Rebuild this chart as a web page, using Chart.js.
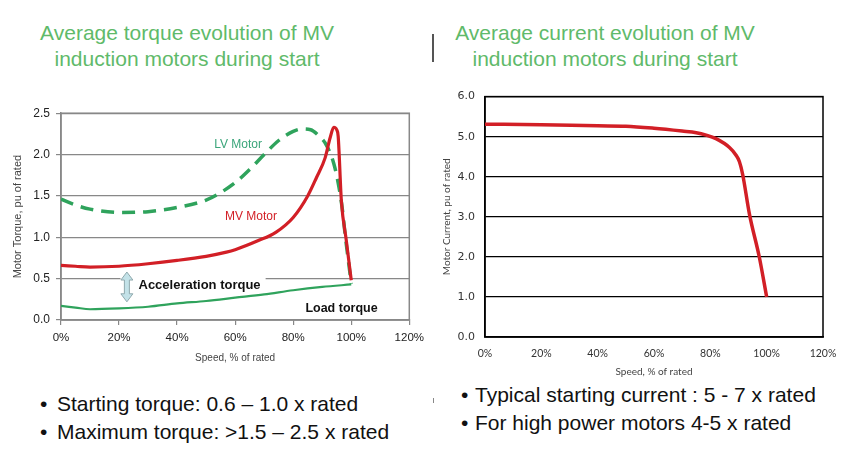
<!DOCTYPE html>
<html>
<head>
<meta charset="utf-8">
<script src="https://cdn.jsdelivr.net/npm/chart.js@4.4.1/dist/chart.umd.min.js"></script>
<style>
  body { margin:0; width:850px; height:466px; background:#fff; position:relative; overflow:hidden; font-family:"Liberation Sans", Arial, sans-serif; }
  canvas { position:absolute; }
  .title { position:absolute; top:20px; width:380px; color:#5fba6a; font-size:21px; line-height:26px; text-align:center; }
  .line { position:absolute; font-size:21px; line-height:21px; color:#111; white-space:nowrap; }
  .mark { position:absolute; background:#555; }
</style>
</head>
<body>
<div class="title" style="left:-3px">Average torque evolution of MV<br>induction motors during start</div>
<div class="title" style="left:415px">Average current evolution of MV<br>induction motors during start</div>
<div class="mark" style="left:432px;top:34px;width:2px;height:28px"></div>

<canvas id="torque" width="430" height="275" style="left:0;top:100px"></canvas>
<canvas id="current" width="420" height="300" style="left:430px;top:80px"></canvas>

<div class="line" style="left:40px;top:393px">•</div>
<div class="line" style="left:57px;top:393px">Starting torque: 0.6 – 1.0 x rated</div>
<div class="line" style="left:40px;top:421px">•</div>
<div class="line" style="left:57px;top:421px">Maximum torque: &gt;1.5 – 2.5 x rated</div>
<div class="mark" style="left:433px;top:398px;width:1px;height:5px;background:#888"></div>
<div class="line" style="left:461px;top:384px">•</div>
<div class="line" style="left:475px;top:384px">Typical starting current : 5 - 7 x rated</div>
<div class="line" style="left:461px;top:412px">•</div>
<div class="line" style="left:475px;top:412px">For high power motors 4-5 x rated</div>

<script>
// torque curves, % of rated speed vs pu of rated torque
let speedMV = [0, 5, 10, 20, 30, 40, 50, 57, 60, 68, 74, 80, 85, 88, 91, 92.7, 94, 95, 95.5, 96.6, 98.3, 100];
let torqueMV = [0.66, 0.65, 0.64, 0.65, 0.68, 0.72, 0.77, 0.82, 0.85, 0.96, 1.06, 1.24, 1.50, 1.72, 1.96, 2.2, 2.33, 2.30, 2.22, 1.44, 0.96, 0.48];
let speedLV = [0, 5, 10, 20, 30, 40, 50, 55, 60, 65, 70, 75, 80, 83, 86, 89, 91, 94, 96, 97, 98, 99, 100];
let torqueLV = [1.46, 1.39, 1.34, 1.30, 1.31, 1.36, 1.45, 1.54, 1.66, 1.82, 2.00, 2.17, 2.28, 2.31, 2.30, 2.22, 2.14, 1.89, 1.56, 1.32, 1.00, 0.72, 0.44];
let speedLoad = [0, 5, 10, 20, 30, 40, 50, 60, 70, 80, 90, 100];
let torqueLoad = [0.17, 0.15, 0.13, 0.14, 0.16, 0.20, 0.23, 0.27, 0.31, 0.36, 0.40, 0.43];
// current curve, pu of rated
let speedI = [0, 20, 40, 50, 60, 70, 75, 78.5, 82, 86.8, 89, 90.3, 91.5, 93.9, 97.4, 100];
let currentI = [5.31, 5.30, 5.27, 5.26, 5.21, 5.14, 5.10, 5.04, 4.95, 4.73, 4.55, 4.38, 4.05, 3.06, 1.99, 1.0];

let speedTicks = [0, 20, 40, 60, 80, 100, 120];

let red = '#d21f26';
let green = '#2fa35c';

Chart.defaults.font.family = '"Liberation Sans", Arial, sans-serif';

function pts(xs, ys) {
  return xs.map((x, i) => ({ x: x, y: ys[i] }));
}

// box round the plot area
function frame(color, width) {
  return {
    id: 'frame',
    beforeDatasetsDraw(chart) {
      let a = chart.chartArea;
      let ctx = chart.ctx;
      ctx.save();
      ctx.strokeStyle = color;
      ctx.lineWidth = width;
      ctx.strokeRect(a.left, a.top, a.right - a.left, a.bottom - a.top);
      ctx.restore();
    }
  };
}

let torqueNotes = {
  id: 'torqueNotes',
  beforeDatasetsDraw(chart) {
    let ctx = chart.ctx;
    let x = chart.scales.x, y = chart.scales.y;
    ctx.save();
    // white label box over the 0.5 gridline
    ctx.fillStyle = '#fff';
    let bx = x.getPixelForValue(20.5), by = y.getPixelForValue(0.57);
    ctx.fillRect(bx, by, x.getPixelForValue(70.5) - bx, y.getPixelForValue(0.34) - by);

    ctx.textBaseline = 'middle';
    ctx.textAlign = 'left';
    ctx.font = 'bold 13px "Liberation Sans", Arial';
    ctx.fillStyle = '#111';
    ctx.fillText('Acceleration torque', x.getPixelForValue(26.7), y.getPixelForValue(0.42));
    ctx.font = 'bold 12.5px "Liberation Sans", Arial';
    ctx.fillText('Load torque', x.getPixelForValue(84.2), y.getPixelForValue(0.14));
    ctx.font = '12px "Liberation Sans", Arial';
    ctx.fillStyle = '#3aa57a';
    ctx.fillText('LV Motor', x.getPixelForValue(52.8), y.getPixelForValue(2.115));
    ctx.fillStyle = red;
    ctx.fillText('MV Motor', x.getPixelForValue(56.5), y.getPixelForValue(1.25));

    // double arrow between the curves
    let ax = x.getPixelForValue(22.7);
    let top = y.getPixelForValue(0.58), bot = y.getPixelForValue(0.22);
    let hw = 6, sw = 2.5, hl = 8;
    ctx.beginPath();
    ctx.moveTo(ax, top);
    ctx.lineTo(ax + hw, top + hl);
    ctx.lineTo(ax + sw, top + hl);
    ctx.lineTo(ax + sw, bot - hl);
    ctx.lineTo(ax + hw, bot - hl);
    ctx.lineTo(ax, bot);
    ctx.lineTo(ax - hw, bot - hl);
    ctx.lineTo(ax - sw, bot - hl);
    ctx.lineTo(ax - sw, top + hl);
    ctx.lineTo(ax - hw, top + hl);
    ctx.closePath();
    ctx.fillStyle = '#c3e2e8';
    ctx.fill();
    ctx.strokeStyle = '#8fa9ad';
    ctx.lineWidth = 1;
    ctx.stroke();
    ctx.restore();
  }
};

let torqueChart = new Chart(document.getElementById('torque'), {
  type: 'line',
  data: {
    datasets: [
      { label: 'MV Motor', data: pts(speedMV, torqueMV), borderColor: red, borderWidth: 3.2, pointRadius: 0, cubicInterpolationMode: 'monotone' },
      { label: 'LV Motor', data: pts(speedLV, torqueLV), borderColor: green, borderWidth: 3.5, borderDash: [13, 8], pointRadius: 0, cubicInterpolationMode: 'monotone' },
      { label: 'Load torque', data: pts(speedLoad, torqueLoad), borderColor: green, borderWidth: 2.2, pointRadius: 0, cubicInterpolationMode: 'monotone' }
    ]
  },
  options: {
    responsive: false,
    animation: false,
    events: [],
    layout: { padding: { top: 12, right: 15, left: 0, bottom: 0 } },
    plugins: { legend: { display: false }, tooltip: { enabled: false } },
    scales: {
      x: {
        type: 'linear', min: 0, max: 120,
        afterBuildTicks: s => { s.ticks = speedTicks.map(v => ({ value: v })); },
        afterFit: s => { s.height = 55; },
        ticks: { callback: v => v + '%', font: { size: 11.5 }, color: '#222', padding: 6, maxRotation: 0 },
        grid: { drawOnChartArea: false, drawTicks: true, tickLength: 5, color: '#888', lineWidth: 1.2 },
        border: { color: '#888', width: 1.5 },
        title: { display: true, text: 'Speed, % of rated', font: { size: 10 }, color: '#444', padding: { top: 0, bottom: 11 } }
      },
      y: {
        min: 0, max: 2.5,
        afterFit: s => { s.width = 61; },
        ticks: { stepSize: 0.5, callback: v => v.toFixed(1), font: { size: 12 }, color: '#222', padding: 6 },
        grid: { color: '#888', lineWidth: 1.2, tickLength: 5 },
        border: { color: '#888', width: 1.5 },
        title: { display: true, text: 'Motor Torque, pu of rated', font: { size: 11 }, color: '#444', padding: { top: 11, bottom: 0 } }
      }
    }
  },
  plugins: [frame('#888', 1.5), torqueNotes]
});

let currentChart = new Chart(document.getElementById('current'), {
  type: 'line',
  data: {
    datasets: [
      { label: 'Current', data: pts(speedI, currentI), borderColor: red, borderWidth: 3.5, pointRadius: 0, cubicInterpolationMode: 'monotone' }
    ]
  },
  options: {
    responsive: false,
    animation: false,
    events: [],
    layout: { padding: { top: 15, right: 27, left: 0, bottom: 0 } },
    plugins: { legend: { display: false }, tooltip: { enabled: false } },
    scales: {
      x: {
        type: 'linear', min: 0, max: 120,
        afterBuildTicks: s => { s.ticks = speedTicks.map(v => ({ value: v })); },
        afterFit: s => { s.height = 43; },
        ticks: { callback: v => v + '%', font: { family: 'Lato', size: 10.5 }, color: '#333', padding: 10, maxRotation: 0 },
        grid: { display: false, drawTicks: false, tickLength: 0 },
        border: { color: '#000', width: 1.5 },
        title: { display: true, text: 'Speed, % of rated', font: { family: 'Lato', size: 10 }, color: '#444', padding: { top: 0, bottom: 2 } }
      },
      y: {
        min: 0, max: 6,
        afterFit: s => { s.width = 55; },
        ticks: { stepSize: 1, callback: v => v.toFixed(1), font: { family: 'DejaVu Sans', size: 11 }, color: '#333', padding: 10 },
        grid: { color: '#000', lineWidth: 1.3, drawTicks: false },
        border: { color: '#000', width: 1.5 },
        title: { display: true, text: 'Motor Current, pu of rated', font: { family: 'Lato', size: 10 }, color: '#444', padding: { top: 11, bottom: 0 } }
      }
    }
  },
  plugins: [frame('#000', 1.5)]
});
</script>
</body>
</html>
